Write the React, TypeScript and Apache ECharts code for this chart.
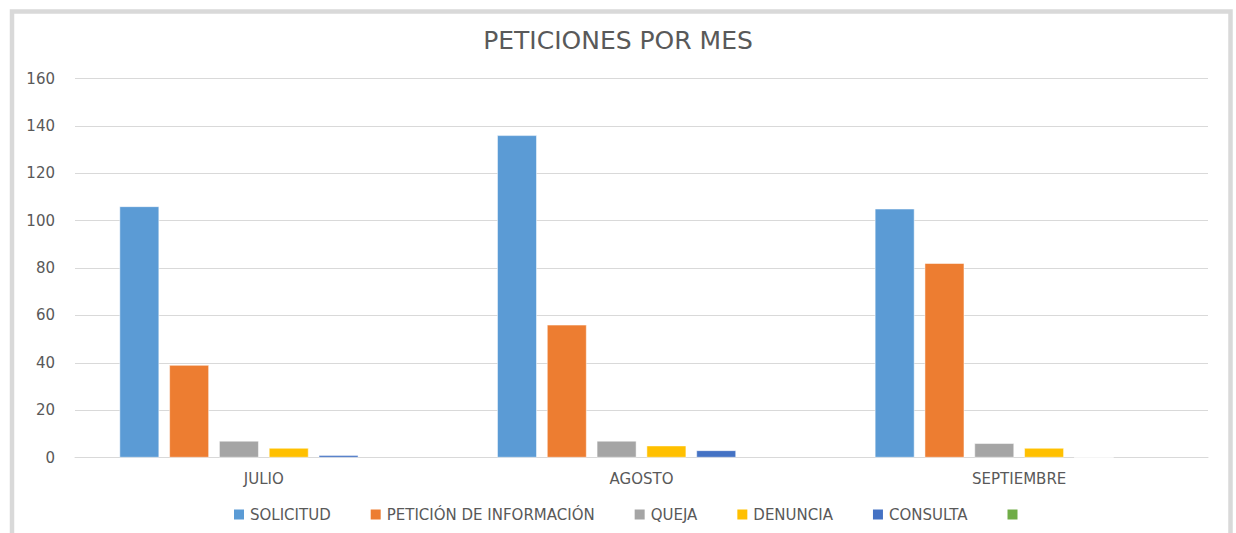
import React, { useEffect, useRef } from "react";
import * as echarts from "echarts";

const categories = ["JULIO", "AGOSTO", "SEPTIEMBRE"];
const seriesNames = ["SOLICITUD", "PETICIÓN DE INFORMACIÓN", "QUEJA", "DENUNCIA", "CONSULTA", " "];
const solicitud = [106, 136, 105];
const peticion = [39, 56, 82];
const queja = [7, 7, 6];
const denuncia = [4, 5, 4];
const consulta = [1, 3, 0];
const sinNombre: (number | null)[] = [null, null, null];
const colors = ["#5B9BD5", "#ED7D31", "#A5A5A5", "#FFC000", "#4472C4", "#70AD47"];
const yTicksMax = 160;
const yInterval = 20;

export default function App() {
  const ref = useRef<HTMLDivElement>(null);
  useEffect(() => {
    const chart = echarts.init(ref.current!, null, { renderer: "svg" });
    const allData = [solicitud, peticion, queja, denuncia, consulta, sinNombre];
    const font = "'DejaVu Sans', sans-serif";
    chart.setOption({
      animation: false,
      color: colors,
      title: {
        text: "PETICIONES POR MES",
        left: "center",
        top: 23,
        textStyle: { color: "#595959", fontSize: 25, fontWeight: "normal", fontFamily: font },
      },
      graphic: [
        {
          type: "rect",
          shape: { x: 12, y: 11.5, width: 1218.5, height: 540 },
          style: { fill: "none", stroke: "#d9d9d9", lineWidth: 4.5 },
          silent: true,
        },
      ],
      grid: { left: 75, right: 28, top: 78.5, bottom: 75.5, containLabel: false },
      legend: {
        data: seriesNames,
        left: 227,
        top: 502,
        itemWidth: 12,
        itemHeight: 12,
        itemGap: 38,
        icon: "rect",
        textStyle: { color: "#595959", fontSize: 15, fontFamily: font },
      },
      xAxis: {
        type: "category",
        data: categories,
        axisLine: { lineStyle: { color: "#d9d9d9" } },
        axisTick: { show: false },
        axisLabel: { color: "#595959", fontSize: 15, margin: 14, fontFamily: font },
      },
      yAxis: {
        type: "value",
        min: 0,
        max: yTicksMax,
        interval: yInterval,
        axisLine: { show: false },
        axisTick: { show: false },
        splitLine: { lineStyle: { color: "#d9d9d9" } },
        axisLabel: { color: "#595959", fontSize: 15, margin: 20, fontFamily: font },
      },
      series: seriesNames.map((name, i) => ({
        name,
        type: "bar",
        data: allData[i],
        barGap: "26%",
        barCategoryGap: "23.6%",
        itemStyle: { color: colors[i], borderColor: "#ffffff", borderWidth: 0.5 },
      })),
    });
    return () => chart.dispose();
  }, []);
  return (
    <div
      ref={ref}
      style={{ position: "fixed", left: 0, top: 0, width: 1236, height: 533, background: "#fff" }}
    />
  );
}
